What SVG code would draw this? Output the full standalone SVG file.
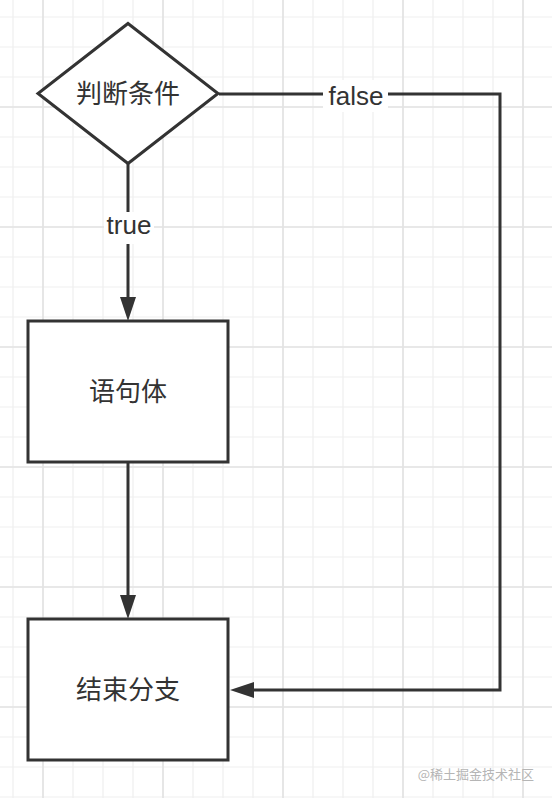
<svg xmlns="http://www.w3.org/2000/svg" width="552" height="798" viewBox="0 0 552 798">
  <style>
    .shape { fill: #ffffff; stroke: #333333; stroke-width: 3; }
    .edge { fill: none; stroke: #333333; stroke-width: 3; }
    .label { font-family: "Liberation Sans", "Noto Sans CJK SC", sans-serif; font-size: 26px; fill: #333333; text-anchor: middle; }
    .cjk { font-family: "Noto Sans CJK SC", "Liberation Sans", sans-serif; font-size: 26px; fill: #333333; text-anchor: middle; }
    .lblbg { fill: #ffffff; }
    .wm { font-family: "Noto Sans CJK SC", sans-serif; font-size: 13px; fill: #b5b5b5; text-anchor: end; }
  </style>
  <defs>
    <pattern id="minor" patternUnits="userSpaceOnUse" x="-2" y="2" width="30" height="30">
      <path d="M15 0V30M0 15H30" stroke="#efefef" stroke-width="1.2" fill="none"/>
    </pattern>
    <pattern id="major" patternUnits="userSpaceOnUse" x="-17" y="47" width="120" height="120">
      <path d="M60 0V120M0 60H120" stroke="#e3e3e3" stroke-width="1.6" fill="none"/>
    </pattern>
    <marker id="arrow" markerUnits="userSpaceOnUse" markerWidth="24" markerHeight="16" refX="0" refY="8" orient="auto" overflow="visible">
      <path d="M0 0L24 8L0 16Z" fill="#333333"/>
    </marker>
  </defs>

  <rect x="0" y="0" width="552" height="798" fill="#ffffff"/>
  <rect x="0" y="0" width="552" height="798" fill="url(#minor)"/>
  <rect x="0" y="0" width="552" height="798" fill="url(#major)"/>

  <g id="connectors">
    <path class="edge" d="M128 164V297" marker-end="url(#arrow)"/>
    <rect class="lblbg" x="104" y="212" width="50" height="32"/>
    <text class="label" x="129" y="234">true</text>

    <path class="edge" d="M128 462V595" marker-end="url(#arrow)"/>

    <path class="edge" d="M219 94H500V690H254" marker-end="url(#arrow)"/>
    <rect class="lblbg" x="323" y="80" width="65" height="32"/>
    <text class="label" x="356" y="105">false</text>
  </g>

  <g id="node-condition">
    <polygon class="shape" points="128,23.5 218,93.5 128,163.5 38,93.5"/>
    <text class="cjk" x="128" y="103">判断条件</text>
  </g>

  <g id="node-body">
    <rect class="shape" x="28" y="321" width="200" height="141"/>
    <text class="cjk" x="128" y="401">语句体</text>
  </g>

  <g id="node-end">
    <rect class="shape" x="28" y="619" width="200" height="141"/>
    <text class="cjk" x="128" y="699">结束分支</text>
  </g>

  <text class="wm" x="534" y="779">@稀土掘金技术社区</text>
</svg>
